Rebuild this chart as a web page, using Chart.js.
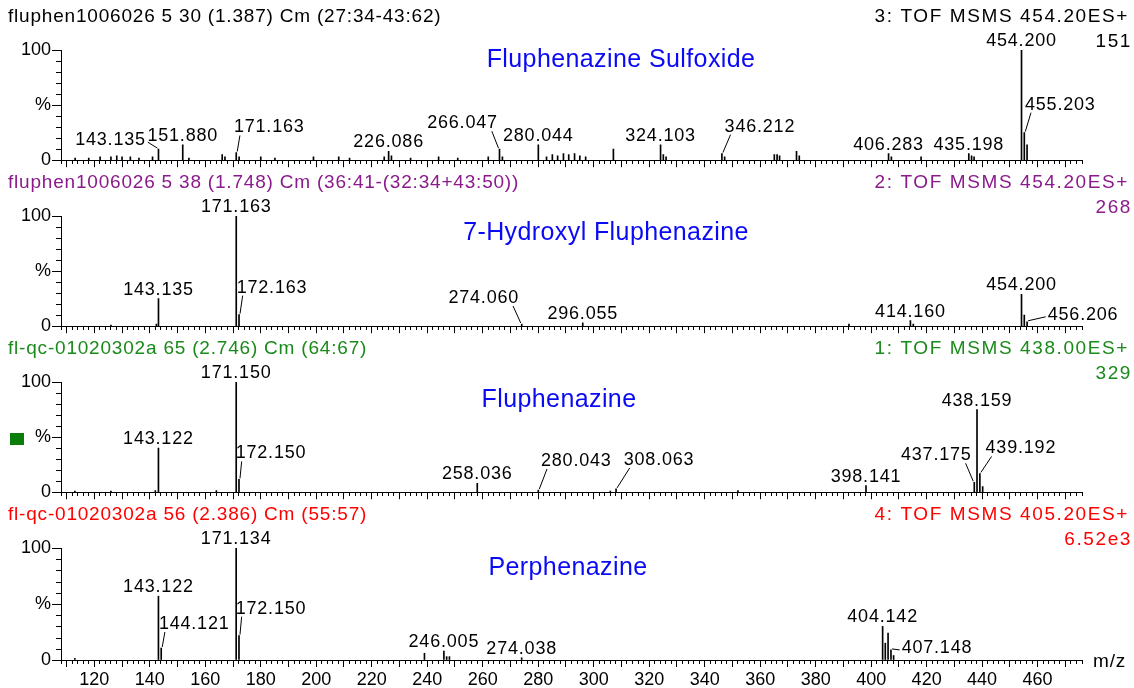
<!DOCTYPE html>
<html>
<head>
<meta charset="utf-8">
<script src="https://cdn.jsdelivr.net/npm/chart.js@4.4.1/dist/chart.umd.min.js"></script>
<style>
  body { margin: 0; background: #fff; width: 1134px; height: 688px; overflow: hidden; position: relative; }
  canvas { position: absolute; left: 0; }
</style>
</head>
<body>
<canvas id="p0" width="1134" height="172" style="top:0px"></canvas>
<canvas id="p1" width="1134" height="172" style="top:166px"></canvas>
<canvas id="p2" width="1134" height="172" style="top:332px"></canvas>
<canvas id="p3" width="1134" height="190" style="top:498px"></canvas>
<script>
// ---- data (m/z, relative intensity %) ----
const compoundNames = ['Fluphenazine Sulfoxide', '7-Hydroxyl Fluphenazine', 'Fluphenazine', 'Perphenazine']
const scanInfo = [
  'fluphen1006026 5 30 (1.387) Cm (27:34-43:62)',
  'fluphen1006026 5 38 (1.748) Cm (36:41-(32:34+43:50))',
  'fl-qc-01020302a 65 (2.746) Cm (64:67)',
  'fl-qc-01020302a 56 (2.386) Cm (55:57)'
]
const functionInfo = ['3: TOF MSMS 454.20ES+', '2: TOF MSMS 454.20ES+', '1: TOF MSMS 438.00ES+', '4: TOF MSMS 405.20ES+']
const baseIntensity = ['151', '268', '329', '6.52e3']

const sulfoxideMz = [113.1, 118.0, 122.1, 126.0, 128.1, 130.0, 133.0, 136.1, 141.0, 143.135, 151.880, 154.1,
  166.1, 167.1, 171.163, 172.2, 180.0, 185.1, 199.0, 208.1, 212.0, 224.5, 226.086, 227.1, 234.0, 244.1, 251.0,
  262.0, 266.047, 267.1, 280.044, 283.0, 285.1, 287.0, 289.1, 291.0, 293.1, 295.0, 297.1, 307.1, 324.103, 325.1,
  326.1, 346.212, 347.2, 365.1, 366.1, 367.0, 373.1, 374.1, 406.283, 407.3, 418.0, 435.198, 436.2, 437.1,
  454.200, 455.203, 456.2]
const sulfoxideInt = [2, 2, 3, 3, 4, 3, 3, 2, 3, 10, 14, 2,
  5, 3, 7, 3, 3, 2, 3, 3, 2, 3, 8, 4, 2, 3, 2,
  3, 10, 3, 14, 3, 5, 4, 6, 5, 6, 4, 3, 10, 14, 5,
  3, 6, 3, 5, 5, 4, 8, 4, 6, 3, 3, 6, 4, 3,
  100, 25, 14]
const sulfoxideLabels = ['143.135', '151.880', '171.163', '226.086', '266.047', '280.044', '324.103', '346.212',
  '406.283', '435.198', '454.200', '455.203']

const hydroxylMz = [126.0, 142.4, 143.135, 171.163, 172.163, 274.060, 296.055, 392.0, 414.160, 415.2, 454.200, 455.2, 456.206]
const hydroxylInt = [1, 2, 25, 100, 10.5, 2, 3, 2, 5, 2, 29, 10, 4]
const hydroxylLabels = ['143.135', '171.163', '172.163', '274.060', '296.055', '414.160', '454.200', '456.206']

const fluphenazineMz = [113.0, 126.0, 142.0, 143.122, 164.0, 171.150, 172.150, 258.036, 280.043, 306.0, 308.063,
  352.0, 398.141, 437.175, 438.159, 439.192, 440.2]
const fluphenazineInt = [1, 1, 1.5, 40, 1.5, 100, 11.6, 8, 2, 1, 3, 1.5, 6, 9, 75, 17, 5]
const fluphenazineLabels = ['143.122', '171.150', '172.150', '258.036', '280.043', '308.063', '398.141',
  '437.175', '438.159', '439.192']

const perphenazineMz = [113.0, 143.122, 144.121, 171.134, 172.150, 239.0, 246.005, 247.0, 248.0, 274.038,
  404.142, 405.1, 406.1, 407.148, 408.1]
const perphenazineInt = [1.5, 57, 10.7, 100, 21.7, 6, 8, 3, 3, 2, 30, 15, 24, 9, 4]
const perphenazineLabels = ['143.122', '144.121', '171.134', '172.150', '246.005', '274.038', '404.142', '407.148']

const xTickLabels = [120, 140, 160, 180, 200, 220, 240, 260, 280, 300, 320, 340, 360, 380, 400, 420, 440, 460]
const yTickValues = [0, 50, 100]
const yTickText = ['0', '%', '100']

// ---- layout / style ----
const FONT = '"Liberation Sans", Arial, sans-serif'
const MZ_MIN = 108
const MZ_MAX = 476
const headerColors = ['#000000', '#8b1a8b', '#1a8a1a', '#ff0000']
const titleX = [621, 606, 559, 568]
const titleY = [60, 67, 68, 70]
// label centre offset from the peak top, only for labels with a leader line
const leaderOffsets = [
  { '143.135': [-48, -9], '171.163': [33, -25], '266.047': [-37, -26], '346.212': [38, -27], '455.203': [36, -28] },
  { '172.163': [33, -27], '274.060': [-38, -26], '456.206': [56, -7] },
  { '172.150': [32, -26], '280.043': [38, -29], '308.063': [43, -29], '437.175': [-38, -27], '439.192': [41, -25] },
  { '144.121': [33, -24], '172.150': [32, -27], '407.148': [46, -2] }
]

const panels = [
  { mz: sulfoxideMz, int: sulfoxideInt, labels: sulfoxideLabels },
  { mz: hydroxylMz, int: hydroxylInt, labels: hydroxylLabels },
  { mz: fluphenazineMz, int: fluphenazineInt, labels: fluphenazineLabels },
  { mz: perphenazineMz, int: perphenazineInt, labels: perphenazineLabels }
]

const drawPeakLabel = (ctx, chart, panel, text, off) => {
  const target = parseFloat(text)
  let k = 0
  panel.mz.forEach((m, i) => { if (Math.abs(m - target) < Math.abs(panel.mz[k] - target)) k = i })
  const px = chart.scales.x.getPixelForValue(panel.mz[k])
  const py = chart.scales.y.getPixelForValue(panel.int[k])
  const w = ctx.measureText(text).width
  if (!off) {
    ctx.textAlign = 'center'
    ctx.textBaseline = 'alphabetic'
    ctx.fillText(text, px, py - 4)
    return
  }
  const lx = px + off[0]
  const ly = py + off[1]
  ctx.textAlign = 'center'
  ctx.textBaseline = 'middle'
  ctx.fillText(text, lx, ly)
  const s = Math.sign(off[0])
  let ex, ey
  if (Math.abs(off[1]) < 12) {
    ex = lx - s * (w / 2 + 2); ey = ly + 2
  } else {
    ex = lx - s * (w / 2 - 6); ey = ly + 8
  }
  ctx.beginPath()
  ctx.moveTo(px + s, py - 1)
  ctx.lineTo(ex, ey)
  ctx.stroke()
}

const textPlugin = (idx) => ({
  id: 'spectrumText' + idx,
  afterDraw(chart) {
    const ctx = chart.ctx
    const panel = panels[idx]
    const ys = chart.scales.y
    ctx.save()
    // minor ticks on the intensity axis (every 10 %)
    ctx.strokeStyle = '#000'
    ctx.lineWidth = 1
    ctx.beginPath()
    for (let v = 10; v < 100; v += 10) {
      if (yTickValues.includes(v)) continue
      const y = Math.round(ys.getPixelForValue(v)) + 0.5
      ctx.moveTo(chart.chartArea.left - 5, y)
      ctx.lineTo(chart.chartArea.left, y)
    }
    ctx.stroke()
    // headers
    ctx.font = '19px ' + FONT
    ctx.letterSpacing = '0.8px'
    ctx.fillStyle = headerColors[idx]
    ctx.textBaseline = 'middle'
    ctx.textAlign = 'left'
    ctx.fillText(scanInfo[idx], 8, 17)
    ctx.textAlign = 'right'
    ctx.letterSpacing = '1.6px'
    ctx.fillText(functionInfo[idx], 1129, 17)
    ctx.fillText(baseIntensity[idx], 1132, 42)
    // compound name
    ctx.font = '25px ' + FONT
    ctx.letterSpacing = '0.4px'
    ctx.fillStyle = '#0a0af5'
    ctx.textAlign = 'center'
    ctx.fillText(compoundNames[idx], titleX[idx], titleY[idx])
    // peak labels
    ctx.font = '18px ' + FONT
    ctx.letterSpacing = '0.8px'
    ctx.fillStyle = '#000'
    ctx.strokeStyle = '#000'
    ctx.lineWidth = 1
    panel.labels.forEach(t => drawPeakLabel(ctx, chart, panel, t, leaderOffsets[idx][t]))
    if (idx === 2) {
      ctx.fillStyle = '#0a7d0a'
      ctx.fillRect(10, 101, 14, 12)
    }
    if (idx === 3) {
      ctx.font = '19px ' + FONT
      ctx.fillStyle = '#000'
      ctx.textAlign = 'left'
      ctx.textBaseline = 'middle'
      ctx.fillText('m/z', 1093, 164)
    }
    ctx.restore()
  }
})

const makePanel = (idx) => {
  const panel = panels[idx]
  const last = idx === panels.length - 1
  const canvas = document.getElementById('p' + idx)
  return new Chart(canvas, {
    type: 'bar',
    data: {
      datasets: [{
        data: panel.mz.map((m, i) => ({ x: m, y: panel.int[i] })),
        backgroundColor: '#000',
        borderWidth: 0,
        barThickness: 1,
        grouped: false
      }]
    },
    options: {
      responsive: false,
      devicePixelRatio: 1,
      animation: false,
      layout: { padding: { top: 50, right: 52, left: 0, bottom: 0 } },
      plugins: { legend: { display: false }, tooltip: { enabled: false } },
      scales: {
        x: {
          type: 'linear',
          min: MZ_MIN,
          max: MZ_MAX,
          offset: false,
          border: { color: '#000', width: 1 },
          grid: {
            offset: false,
            drawOnChartArea: false,
            tickLength: 7,
            tickColor: '#000',
            tickWidth: 1,
            tickBorderDash: (c) => (c.tick && c.tick.value % 10 === 0) ? [] : [3, 20]
          },
          ticks: {
            display: last,
            stepSize: 2,
            autoSkip: false,
            maxRotation: 0,
            padding: 2,
            color: '#000',
            font: { family: FONT, size: 18 },
            callback: (v) => xTickLabels.includes(v) ? String(v) : ''
          },
          afterFit: (s) => { s.height = last ? 28 : 10 }
        },
        y: {
          min: 0,
          max: 100,
          border: { color: '#000', width: 1 },
          grid: {
            drawOnChartArea: false,
            tickLength: 9,
            tickWidth: 1,
            tickColor: (c) => (c.tick && yTickValues.includes(c.tick.value)) ? '#000' : 'rgba(0,0,0,0)'
          },
          ticks: {
            stepSize: 10,
            autoSkip: false,
            padding: 1,
            color: '#000',
            font: { family: FONT, size: 18 },
            callback: (v) => {
              const i = yTickValues.indexOf(v)
              return i >= 0 ? yTickText[i] : ''
            }
          },
          afterFit: (s) => { s.width = 61 }
        }
      }
    },
    plugins: [textPlugin(idx)]
  })
}

panels.forEach((p, i) => makePanel(i))
</script>
</body>
</html>
